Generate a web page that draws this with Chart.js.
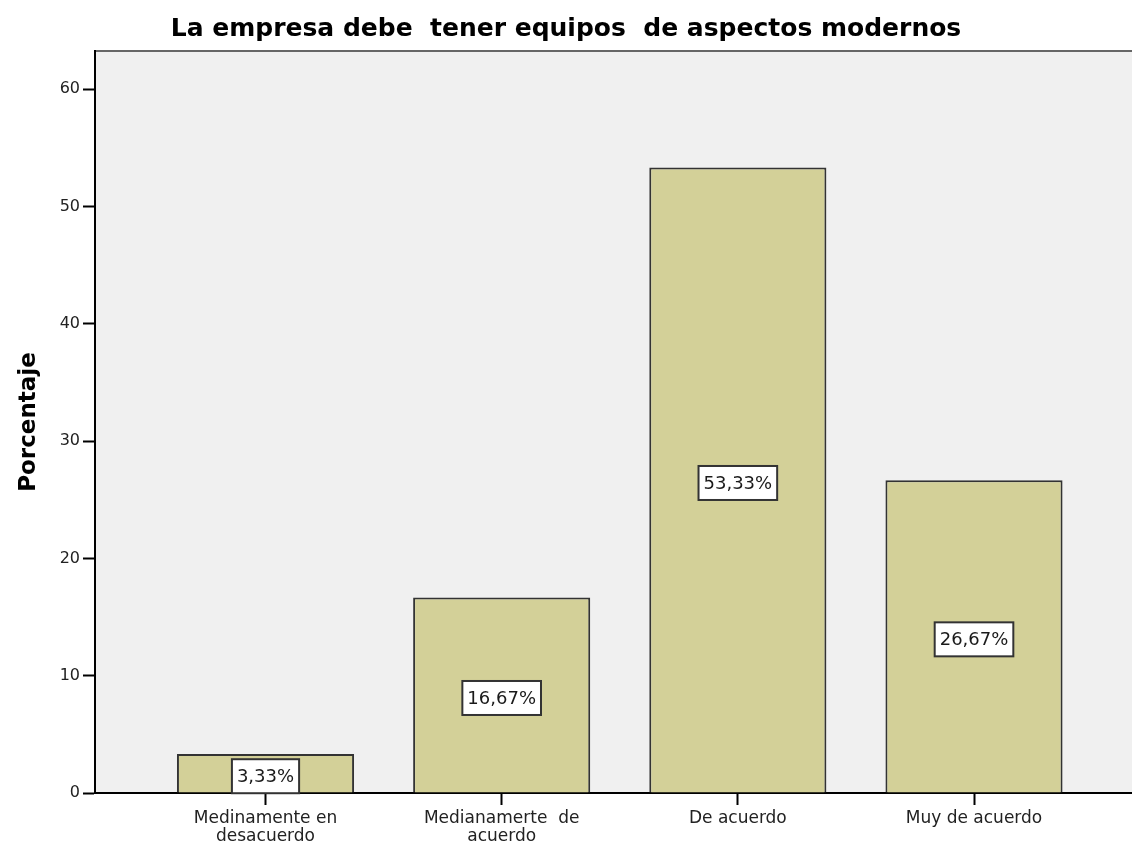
<!DOCTYPE html>
<html>
<head>
<meta charset="utf-8">
<script src="https://cdn.jsdelivr.net/npm/chart.js@4/dist/chart.umd.min.js"></script>
<style>
  html, body { margin: 0; padding: 0; background: #ffffff; }
  #wrap { width: 1132px; height: 850px; }
</style>
</head>
<body>
<div id="wrap"><canvas id="chart" width="1132" height="850"></canvas></div>
<script>
const chartTitle = 'La empresa debe  tener equipos  de aspectos modernos';
const categories = [
    ['Medinamente en', 'desacuerdo'],
    ['Medianamerte  de', 'acuerdo'],
    ['De acuerdo'],
    ['Muy de acuerdo']
];
const percentages = [3.33, 16.67, 53.33, 26.67];
const percentLabels = ['3,33%', '16,67%', '53,33%', '26,67%'];
const yTicks = [0, 10, 20, 30, 40, 50, 60];

const FONT = '"DejaVu Sans", sans-serif';

// grey plot background and the thin top frame line
const plotBackground = {
    id: 'plotBackground',
    beforeDraw(chart) {
        const {ctx, chartArea: a} = chart;
        ctx.save();
        ctx.fillStyle = '#f0f0f0';
        ctx.fillRect(a.left, a.top, a.right - a.left, a.bottom - a.top);
        ctx.strokeStyle = '#666666';
        ctx.lineWidth = 2;
        ctx.beginPath();
        ctx.moveTo(a.left, a.top);
        ctx.lineTo(a.right, a.top);
        ctx.stroke();
        ctx.restore();
    }
};

// white boxed value labels in the middle of each bar
const boxLabels = {
    id: 'boxLabels',
    afterDatasetsDraw(chart) {
        const {ctx} = chart;
        const meta = chart.getDatasetMeta(0);
        ctx.save();
        ctx.font = '18px ' + FONT;
        ctx.textAlign = 'center';
        ctx.textBaseline = 'middle';
        meta.data.forEach((bar, i) => {
            const text = percentLabels[i];
            const w = ctx.measureText(text).width + 10;
            const h = 34;
            const cy = (bar.y + bar.base) / 2 + 3;
            ctx.fillStyle = '#ffffff';
            ctx.fillRect(bar.x - w / 2, cy - h / 2, w, h);
            ctx.strokeStyle = '#333333';
            ctx.lineWidth = 2;
            ctx.strokeRect(bar.x - w / 2, cy - h / 2, w, h);
            ctx.fillStyle = '#1a1a1a';
            ctx.fillText(text, bar.x, cy + 1);
        });
        ctx.restore();
    }
};

const config = {
    type: 'bar',
    data: {
        datasets: [{
            data: percentages.map((v, i) => ({x: i, y: v})),
            backgroundColor: '#d3d098',
            borderColor: '#333333',
            borderWidth: 2,
            borderSkipped: 'bottom',
            categoryPercentage: 1,
            barPercentage: 0.75
        }]
    },
    options: {
        responsive: false,
        animation: false,
        layout: {
            padding: {left: 0, right: 0, top: 0, bottom: 0}
        },
        plugins: {
            legend: {display: false},
            tooltip: {enabled: false},
            title: {
                display: true,
                text: chartTitle,
                color: '#000000',
                font: {family: FONT, size: 25, weight: 'bold'},
                padding: {top: 14, bottom: 7}
            }
        },
        scales: {
            x: {
                type: 'linear',
                offset: false,
                min: -0.722,
                max: 3.669,
                afterBuildTicks: (scale) => {
                    scale.ticks = categories.map((c, i) => ({value: i}));
                },
                afterFit: (scale) => {
                    scale.height = 57;
                },
                ticks: {
                    autoSkip: false,
                    maxRotation: 0,
                    color: '#222222',
                    padding: 4,
                    font: {family: FONT, size: 17, lineHeight: 1.1},
                    callback: (value) => categories[value]
                },
                grid: {
                    display: true,
                    offset: false,
                    drawOnChartArea: false,
                    drawTicks: true,
                    tickLength: 12,
                    tickWidth: 2,
                    tickColor: '#000000'
                },
                border: {display: true, color: '#000000', width: 2}
            },
            y: {
                min: 0,
                max: 63.26,
                afterBuildTicks: (scale) => {
                    scale.ticks = yTicks.map(v => ({value: v}));
                },
                afterFit: (scale) => {
                    scale.width = 95;
                },
                ticks: {
                    color: '#222222',
                    padding: 3,
                    font: {family: FONT, size: 16}
                },
                grid: {
                    display: true,
                    drawOnChartArea: false,
                    drawTicks: true,
                    tickLength: 12,
                    tickWidth: 2,
                    tickColor: '#000000'
                },
                border: {display: true, color: '#000000', width: 2},
                title: {
                    display: true,
                    text: 'Porcentaje',
                    color: '#000000',
                    font: {family: FONT, size: 23, weight: 'bold'},
                    padding: {top: 15, bottom: 0}
                }
            }
        }
    },
    plugins: [plotBackground, boxLabels]
};

new Chart(document.getElementById('chart'), config);
</script>
</body>
</html>
